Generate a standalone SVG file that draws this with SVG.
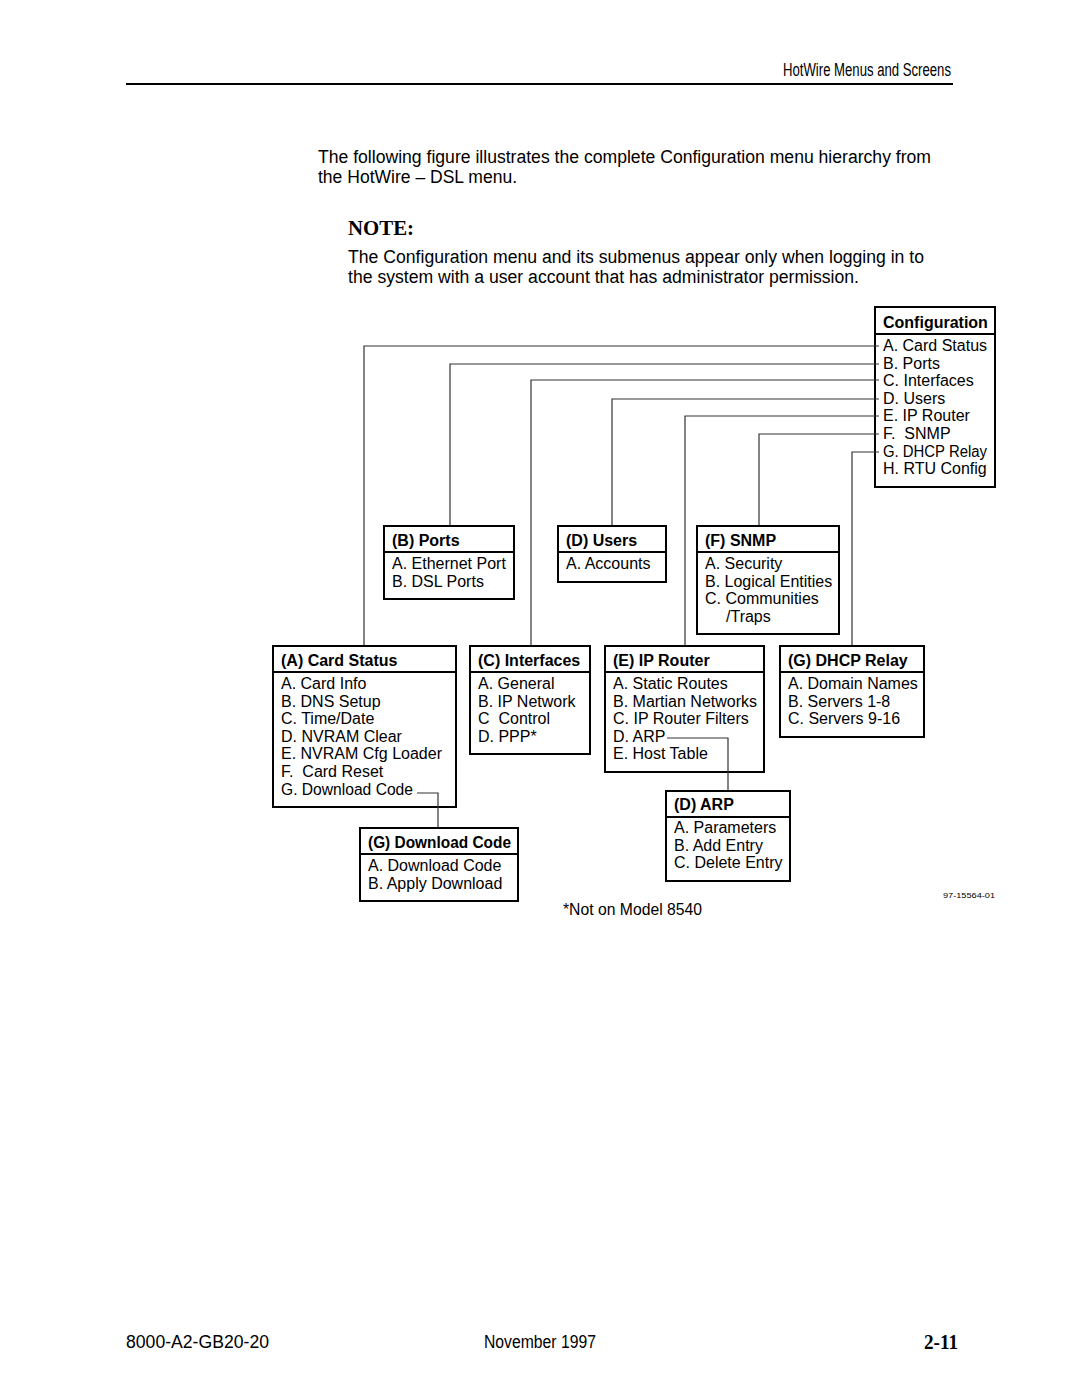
<svg xmlns="http://www.w3.org/2000/svg" width="1080" height="1397" viewBox="0 0 1080 1397">
<style>
  .t { font-family: "Liberation Sans", Arial, sans-serif; font-size: 16px; fill: #000; white-space: pre; }
  .b { font-family: "Liberation Sans", Arial, sans-serif; font-size: 16px; font-weight: bold; fill: #000; }
  .p { font-family: "Liberation Sans", Arial, sans-serif; font-size: 18px; fill: #000; }
  .box { fill: #fff; stroke: #000; stroke-width: 2; }
  .div { stroke: #000; stroke-width: 2; }
  .c { fill: none; stroke: #333; stroke-width: 1.2; }
</style>
<rect width="1080" height="1397" fill="#fff"/>

<!-- page header -->
<text class="p" x="783" y="76" font-size="19" textLength="168" lengthAdjust="spacingAndGlyphs">HotWire Menus and Screens</text>
<line x1="126" y1="84" x2="953" y2="84" stroke="#000" stroke-width="2"/>

<text class="p" x="318" y="163" textLength="613" lengthAdjust="spacingAndGlyphs">The following figure illustrates the complete Configuration menu hierarchy from</text>
<text class="p" x="318" y="183" textLength="199" lengthAdjust="spacingAndGlyphs">the HotWire – DSL menu.</text>
<text x="348" y="235" font-family="'Liberation Serif', 'Times New Roman', serif" font-size="21" font-weight="bold" textLength="66" lengthAdjust="spacingAndGlyphs">NOTE:</text>
<text class="p" x="348" y="263" textLength="576" lengthAdjust="spacingAndGlyphs">The Configuration menu and its submenus appear only when logging in to</text>
<text class="p" x="348" y="283" textLength="511" lengthAdjust="spacingAndGlyphs">the system with a user account that has administrator permission.</text>

<!-- Configuration -->
<g id="configuration">
  <rect class="box" x="875" y="307" width="120" height="180"/>
  <line class="div" x1="875" y1="334" x2="995" y2="334"/>
  <text class="b" x="883" y="328">Configuration</text>
  <text class="t" x="883" y="351">A. Card Status</text>
  <text class="t" x="883" y="368.6">B. Ports</text>
  <text class="t" x="883" y="386.2">C. Interfaces</text>
  <text class="t" x="883" y="403.8">D. Users</text>
  <text class="t" x="883" y="421.4">E. IP Router</text>
  <text class="t" x="883" y="439">F.  SNMP</text>
  <text class="t" x="883" y="456.6" textLength="104" lengthAdjust="spacingAndGlyphs">G. DHCP Relay</text>
  <text class="t" x="883" y="474.2">H. RTU Config</text>
</g>

<!-- (B) Ports -->
<g id="ports">
  <rect class="box" x="384" y="526" width="130" height="73"/>
  <line class="div" x1="384" y1="552" x2="514" y2="552"/>
  <text class="b" x="392" y="546">(B) Ports</text>
  <text class="t" x="392" y="569">A. Ethernet Port</text>
  <text class="t" x="392" y="586.6">B. DSL Ports</text>
</g>

<!-- (D) Users -->
<g id="users">
  <rect class="box" x="558" y="526" width="108" height="56"/>
  <line class="div" x1="558" y1="552" x2="666" y2="552"/>
  <text class="b" x="566" y="546">(D) Users</text>
  <text class="t" x="566" y="569">A. Accounts</text>
</g>

<!-- (F) SNMP -->
<g id="snmp">
  <rect class="box" x="697" y="526" width="142" height="108"/>
  <line class="div" x1="697" y1="552" x2="839" y2="552"/>
  <text class="b" x="705" y="546">(F) SNMP</text>
  <text class="t" x="705" y="569">A. Security</text>
  <text class="t" x="705" y="586.6">B. Logical Entities</text>
  <text class="t" x="705" y="604.2">C. Communities</text>
  <text class="t" x="726" y="621.8">/Traps</text>
</g>

<!-- (A) Card Status -->
<g id="card-status">
  <rect class="box" x="273" y="646" width="183" height="161"/>
  <line class="div" x1="273" y1="672" x2="456" y2="672"/>
  <text class="b" x="281" y="666">(A) Card Status</text>
  <text class="t" x="281" y="689">A. Card Info</text>
  <text class="t" x="281" y="706.6">B. DNS Setup</text>
  <text class="t" x="281" y="724.2">C. Time/Date</text>
  <text class="t" x="281" y="741.8">D. NVRAM Clear</text>
  <text class="t" x="281" y="759.4">E. NVRAM Cfg Loader</text>
  <text class="t" x="281" y="777">F.  Card Reset</text>
  <text class="t" x="281" y="794.6" textLength="132" lengthAdjust="spacingAndGlyphs">G. Download Code</text>
</g>

<!-- (C) Interfaces -->
<g id="interfaces">
  <rect class="box" x="470" y="646" width="120" height="108"/>
  <line class="div" x1="470" y1="672" x2="590" y2="672"/>
  <text class="b" x="478" y="666">(C) Interfaces</text>
  <text class="t" x="478" y="689">A. General</text>
  <text class="t" x="478" y="706.6">B. IP Network</text>
  <text class="t" x="478" y="724.2">C  Control</text>
  <text class="t" x="478" y="741.8">D. PPP*</text>
</g>

<!-- (E) IP Router -->
<g id="ip-router">
  <rect class="box" x="605" y="646" width="159" height="126"/>
  <line class="div" x1="605" y1="672" x2="764" y2="672"/>
  <text class="b" x="613" y="666">(E) IP Router</text>
  <text class="t" x="613" y="689">A. Static Routes</text>
  <text class="t" x="613" y="706.6">B. Martian Networks</text>
  <text class="t" x="613" y="724.2">C. IP Router Filters</text>
  <text class="t" x="613" y="741.8">D. ARP</text>
  <text class="t" x="613" y="759.4">E. Host Table</text>
</g>

<!-- (G) DHCP Relay -->
<g id="dhcp-relay">
  <rect class="box" x="780" y="646" width="144" height="91"/>
  <line class="div" x1="780" y1="672" x2="924" y2="672"/>
  <text class="b" x="788" y="666">(G) DHCP Relay</text>
  <text class="t" x="788" y="689">A. Domain Names</text>
  <text class="t" x="788" y="706.6">B. Servers 1-8</text>
  <text class="t" x="788" y="724.2">C. Servers 9-16</text>
</g>

<!-- (G) Download Code -->
<g id="download-code">
  <rect class="box" x="360" y="828" width="158" height="73"/>
  <line class="div" x1="360" y1="854" x2="518" y2="854"/>
  <text class="b" x="368" y="848" textLength="143" lengthAdjust="spacingAndGlyphs">(G) Download Code</text>
  <text class="t" x="368" y="871">A. Download Code</text>
  <text class="t" x="368" y="888.6">B. Apply Download</text>
</g>

<!-- (D) ARP -->
<g id="arp">
  <rect class="box" x="666" y="791" width="124" height="90"/>
  <line class="div" x1="666" y1="817" x2="790" y2="817"/>
  <text class="b" x="674" y="810">(D) ARP</text>
  <text class="t" x="674" y="833">A. Parameters</text>
  <text class="t" x="674" y="850.6">B. Add Entry</text>
  <text class="t" x="674" y="868.2">C. Delete Entry</text>
</g>

<!-- connectors -->
<g id="connectors">
  <polyline class="c" points="879,346 364,346 364,645"/>
  <polyline class="c" points="879,364 450,364 450,525"/>
  <polyline class="c" points="879,380 531,380 531,645"/>
  <polyline class="c" points="879,399 612,399 612,525"/>
  <polyline class="c" points="879,416 685,416 685,645"/>
  <polyline class="c" points="879,434 759,434 759,525"/>
  <polyline class="c" points="879,452 852,452 852,645"/>
  <polyline class="c" points="417,793 438,793 438,827"/>
  <polyline class="c" points="667,738 728,738 728,790"/>
</g>

<text class="t" x="563" y="915" font-size="15" textLength="139" lengthAdjust="spacingAndGlyphs">*Not on Model 8540</text>
<text x="943" y="898" font-family="'Liberation Sans', Arial, sans-serif" font-size="8" textLength="52" lengthAdjust="spacingAndGlyphs">97-15564-01</text>

<!-- footer -->
<text class="p" x="126" y="1348" font-size="17" textLength="143" lengthAdjust="spacingAndGlyphs">8000-A2-GB20-20</text>
<text class="p" x="484" y="1348" font-size="17" textLength="112" lengthAdjust="spacingAndGlyphs">November 1997</text>
<text x="924" y="1349" font-family="'Liberation Serif', 'Times New Roman', serif" font-size="22" font-weight="bold" textLength="34" lengthAdjust="spacingAndGlyphs">2-11</text>
</svg>
